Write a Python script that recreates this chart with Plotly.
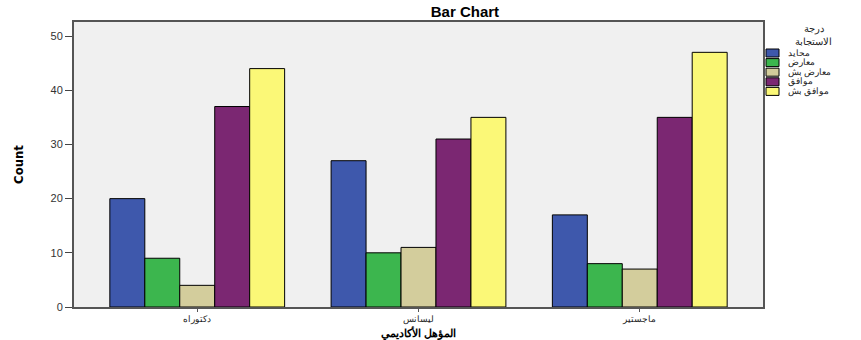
import plotly.graph_objects as go

categories = ["دكتوراه", "ليسانس", "ماجستير"]
series_names = ["محايد", "معارض", "معارض بش", "موافق", "موافق بش"]
values = {
    "محايد": [20, 27, 17],
    "معارض": [9, 10, 8],
    "معارض بش": [4, 11, 7],
    "موافق": [37, 31, 35],
    "موافق بش": [44, 35, 47],
}
colors = ["#3E58AC", "#3CB64E", "#D3CD9C", "#7B2772", "#FBF877"]
y_ticks = [0, 10, 20, 30, 40, 50]
legend_title = "درجة<br>الاستجابة"
x_title = "المؤهل الأكاديمي"

W, H = 861, 340
L, R, T, B = 74, 98, 22, 33
pw, ph = W - L - R, H - T - B

def px(x):
    return (x - L) / pw

def py(y):
    return (H - B - y) / ph

fig = go.Figure()
for name, col in zip(series_names, colors):
    fig.add_trace(go.Bar(
        x=categories, y=values[name], name=name, showlegend=False,
        marker=dict(color=col, line=dict(color="#000000", width=1)),
    ))

# custom compact legend built from the series lists
fig.add_annotation(text=legend_title, xref="paper", yref="paper",
                   x=px(813), y=py(35), xanchor="center", yanchor="middle",
                   showarrow=False, align="center",
                   font=dict(size=10, color="#222"))
for i, (name, col) in enumerate(zip(series_names, colors)):
    yc = 53 + i * 9.6
    fig.add_shape(type="rect", xref="paper", yref="paper",
                  x0=px(766), x1=px(779), y0=py(yc + 4), y1=py(yc - 4),
                  fillcolor=col, line=dict(color="#000", width=1))
    fig.add_annotation(text=name, xref="paper", yref="paper",
                       x=px(786), y=py(yc), xanchor="left", yanchor="middle",
                       showarrow=False, font=dict(size=8.5, color="#222"))

# x-axis title placed below tick labels
fig.add_annotation(text="<b>" + x_title + "</b>", xref="paper", yref="paper",
                   x=px(418), y=py(333.5), xanchor="center", yanchor="middle",
                   showarrow=False, font=dict(size=11, color="#000"))

fig.update_layout(
    width=W, height=H,
    margin=dict(l=L, r=R, t=T, b=B),
    paper_bgcolor="white",
    plot_bgcolor="#F0F0F0",
    barmode="group", bargap=0.21, bargroupgap=0,
    title=dict(text="<b>Bar Chart</b>", x=0.54, xanchor="center", y=0.965, yanchor="middle",
               font=dict(family="Liberation Sans, Arial", size=15, color="#000")),
    font=dict(family="Liberation Sans, Arial", size=10, color="#222"),
    showlegend=False,
    xaxis=dict(
        automargin=False,
        range=[-0.557, 2.557], ticks="outside", ticklen=3, tickcolor="#555",
        showline=True, mirror=True, linecolor="#555", linewidth=2, showgrid=False,
        tickfont=dict(size=8.5, color="#222"),
    ),
    yaxis=dict(
        title=dict(text="<b>Count</b>", font=dict(family="DejaVu Sans Condensed, Liberation Sans Narrow, Arial", size=13, color="#000"), standoff=24),
        automargin=False,
        range=[0, 52.6], tickvals=y_ticks, ticks="outside", ticklen=7, tickcolor="#444",
        showline=True, mirror=True, linecolor="#555", linewidth=2, showgrid=False, zeroline=False,
        tickfont=dict(size=11, color="#333"),
    ),
)
fig.write_html("out.html")
